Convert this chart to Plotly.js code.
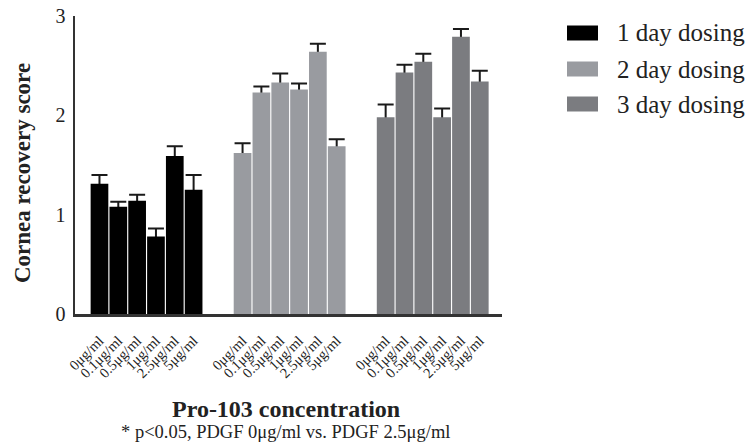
<!DOCTYPE html>
<html>
<head>
<meta charset="utf-8">
<script src="https://cdn.plot.ly/plotly-3.0.1.min.js"></script>
<style>html,body{margin:0;padding:0;background:#fff;}#chart{width:753px;height:445px;}</style>
</head>
<body>
<div id="chart"></div>
<script>
// ---- data ----
var concentrations = ["0μg/ml", "0.1μg/ml", "0.5μg/ml", "1μg/ml", "2.5μg/ml", "5μg/ml"];
var seriesNames = ["1 day dosing", "2 day dosing", "3 day dosing"];
var day1 = [1.31, 1.08, 1.14, 0.78, 1.59, 1.25];
var day2 = [1.62, 2.23, 2.33, 2.26, 2.64, 1.69];
var day3 = [1.98, 2.43, 2.54, 1.98, 2.79, 2.34];
var day1Err = [0.09, 0.05, 0.06, 0.08, 0.10, 0.15];
var day2Err = [0.10, 0.06, 0.09, 0.06, 0.08, 0.07];
var day3Err = [0.13, 0.08, 0.08, 0.09, 0.08, 0.11];
var yTicks = [0, 1, 2, 3];
var xTitle = "Pro-103 concentration";
var yTitle = "Cornea recovery score";
var note = "* p<0.05, PDGF 0μg/ml vs. PDGF 2.5μg/ml";

// ---- styling ----
var colors = ["#000000", "#999ba0", "#7b7c80"];
var serif = "Liberation Serif";
var groupStep = concentrations.length + 1.6;
var values = [day1, day2, day3];
var errs = [day1Err, day2Err, day3Err];

var traces = [];
var tickvals = [], ticktext = [];
values.forEach(function (vals, g) {
  var xs = vals.map(function (_, i) { return g * groupStep + i; });
  xs.forEach(function (x, i) { tickvals.push(x); ticktext.push(concentrations[i]); });
  // error-bar carrier (drawn first, covered by the visible bars)
  traces.push({
    type: "bar", x: xs, y: vals, width: 0.94,
    marker: { color: "rgba(0,0,0,0)" },
    error_y: { type: "data", symmetric: false, array: errs[g], arrayminus: vals,
               color: "#1a1a1a", thickness: 2, width: 8 },
    showlegend: false, hoverinfo: "skip"
  });
});
values.forEach(function (vals, g) {
  var xs = vals.map(function (_, i) { return g * groupStep + i; });
  traces.push({
    type: "bar", x: xs, y: vals, width: 0.94, name: seriesNames[g],
    marker: { color: colors[g] }, showlegend: false
  });
});

var L = 75, R = 502, T = 16, B = 314;
function px(x) { return (x - L) / (R - L); }
function py(y) { return (B - y) / (B - T); }

var shapes = [], annotations = [];
var rowY = [33, 69, 104];
seriesNames.forEach(function (n, i) {
  shapes.push({ type: "rect", xref: "paper", yref: "paper",
    x0: px(567), x1: px(598), y0: py(rowY[i] - 7.5), y1: py(rowY[i] + 7.5),
    fillcolor: colors[i], line: { width: 0 } });
  annotations.push({ xref: "paper", yref: "paper", x: px(615), y: py(rowY[i]),
    xanchor: "left", yanchor: "middle", showarrow: false, text: n,
    font: { family: serif, size: 25, color: "#222" } });
});
annotations.push({ xref: "paper", yref: "paper", x: px(22), y: py(173),
  textangle: -90, showarrow: false, xanchor: "center", yanchor: "middle",
  text: "<b>" + yTitle + "</b>", font: { family: serif, size: 23, color: "#222" } });
annotations.push({ xref: "paper", yref: "paper", x: px(286), y: py(409),
  showarrow: false, xanchor: "center", yanchor: "middle",
  text: "<b>" + xTitle + "</b>", font: { family: serif, size: 24, color: "#222" } });
annotations.push({ xref: "paper", yref: "paper", x: px(285), y: py(432),
  showarrow: false, xanchor: "center", yanchor: "middle",
  text: note, font: { family: serif, size: 18.5, color: "#222" } });

var layout = {
  width: 753, height: 445,
  margin: { l: L, r: 753 - R, t: T, b: 445 - B, pad: 0 },
  paper_bgcolor: "#fff", plot_bgcolor: "#fff",
  barmode: "overlay", showlegend: false,
  font: { family: serif, color: "#222" },
  xaxis: {
    range: [-1.3, 21.38], tickmode: "array", tickvals: tickvals, ticktext: ticktext,
    tickangle: -45, tickfont: { family: serif, size: 14.5, color: "#222" },
    showgrid: false, zeroline: false, showline: true, linecolor: "#333", linewidth: 2.5,
    ticks: "", ticklabelstandoff: 10, fixedrange: true
  },
  yaxis: {
    range: [0, 3], tickmode: "array", tickvals: yTicks,
    tickfont: { family: serif, size: 20, color: "#222" },
    showgrid: false, zeroline: false, showline: true, linecolor: "#333", linewidth: 2.5,
    ticks: "", ticklabelstandoff: 3, fixedrange: true
  },
  shapes: shapes, annotations: annotations
};
Plotly.newPlot("chart", traces, layout, { displayModeBar: false, staticPlot: true });
</script>
</body>
</html>
